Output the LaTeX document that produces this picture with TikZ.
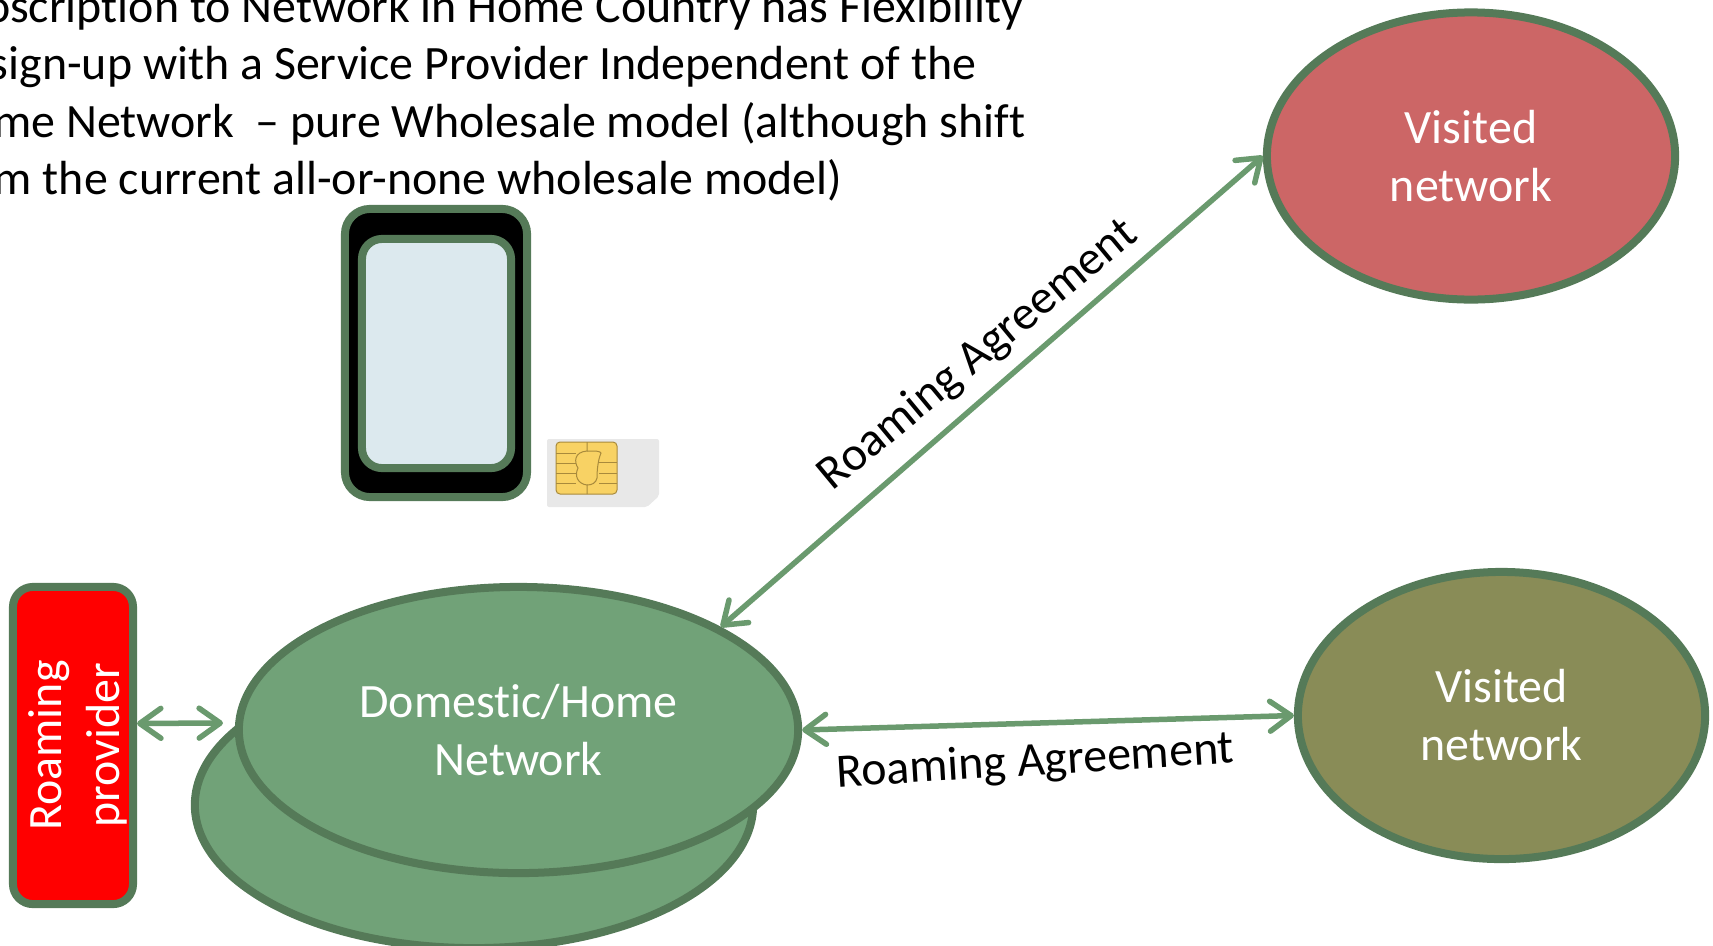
\documentclass[tikz,border=0pt]{standalone}
\usepackage{fontspec}
\setmainfont{Carlito}[Ligatures=CommonOff]
\usepackage{tikz}
\usetikzlibrary{arrows.meta}
\usetikzlibrary{shapes.geometric}
\definecolor{rimgreen}{HTML}{557A58}
\definecolor{homegreen}{HTML}{71A278}
\definecolor{linkgreen}{HTML}{6A9A6E}
\definecolor{visitedred}{HTML}{CC6666}
\definecolor{visitedolive}{HTML}{898C57}
\definecolor{screenblue}{HTML}{DCE9EE}
\definecolor{simgrey}{HTML}{E8E8E8}
\definecolor{chipgold}{HTML}{F8D264}
\definecolor{chipline}{HTML}{A88A3C}

\begin{document}
\begin{tikzpicture}[x=0.01cm,y=-0.01cm]
        \tikzstyle{bigtext}=[font=\fontsize{13.62}{16.5}\selectfont]
        \tikzstyle{network}=[ellipse,draw=rimgreen,line width=0.08cm,text=white,
            align=center,inner sep=0pt,bigtext]
        \tikzstyle{roundbox}=[rectangle,rounded corners=0.2cm,draw=rimgreen,
            line width=0.08cm,inner sep=0pt]
        \tikzstyle{link}=[{Straight Barb[length=6pt,width=8.5pt,round]}-{Straight Barb[length=6pt,width=8.5pt,round]},
            draw=linkgreen,line width=0.055cm]
        \useasboundingbox (0,0) rectangle (1713,945);

        \foreach \txt/\xx/\yy [count=\i] in {oscription to Network in Home Country has Flexibility/1024/22,
            sign-up with a Service Provider Independent of the/977/79.5,
            me Network \ – pure Wholesale model (although shift/1026/137,
            m the current all-or-none wholesale model)/843/194.5}
            \node[bigtext,anchor=base east,inner sep=0pt] (top\i) at (\xx,\yy) {\txt};

        \node[roundbox,rounded corners=0.25cm,fill=black,minimum width=1.82cm,minimum height=2.88cm] (phone) at (436,353) {};
        \node[roundbox,fill=screenblue,minimum width=1.49cm,minimum height=2.29cm] (screen) at (436.5,353.5) {};

        \fill[simgrey,rounded corners=0.02cm] (547,439) -- (659,439) -- (659,496) -- (647,507) -- (547,507) -- cycle;
        \draw[chipline,fill=chipgold,line width=0.01cm,rounded corners=0.04cm] (556,442) rectangle (617,494);
        \draw[chipline,line width=0.01cm] (587,442) -- (587,451) .. controls (574,452) and (574,462) .. (578,468)
            .. controls (574,476) and (578,484) .. (587,485) -- (587,494);
        \draw[chipline,line width=0.01cm] (587,451) .. controls (596,451) and (600,451) .. (601,453)
            .. controls (598,460) and (597,470) .. (597,478) .. controls (596,483) and (592,485) .. (587,485);
        \foreach \yy in {453,463,473,483}
            \draw[chipline,line width=0.01cm] (556,\yy) -- (576,\yy);
        \foreach \yy in {462,473,483}
            \draw[chipline,line width=0.01cm] (599,\yy) -- (617,\yy);

        \node[network,fill=homegreen,minimum width=5.58cm,minimum height=2.86cm] (back) at (474,805) {};
        \node[network,fill=homegreen,minimum width=5.59cm,minimum height=2.86cm] (home) at (518.5,730) {Domestic/Home\\Network};
        \node[network,fill=visitedred,minimum width=4.08cm,minimum height=2.87cm] (red) at (1471,156) {Visited\\network};
        \node[network,fill=visitedolive,minimum width=4.07cm,minimum height=2.87cm] (olive) at (1501.5,715.5) {Visited\\network};

        \node[roundbox,fill=red,minimum width=1.2cm,minimum height=3.17cm] (rprov) at (73,745.5) {};
        \node[bigtext,text=white,align=center,rotate=90,inner sep=0pt] (rprovtext) at (77.5,745.5) {Roaming\\provider};

        \coordinate (homegap) at (223,723);
        \draw[link] (rprov.19) -- (homegap);
        \draw[link] (home.27) -- (red.180);
        \draw[link] (home.east) -- (olive.west);

        \node[bigtext,anchor=base,rotate=39.6,inner sep=0pt] (agree1) at (986,365) {Roaming Agreement};
        \node[bigtext,anchor=base,rotate=3.5,inner sep=0pt] (agree2) at (1036,775) {Roaming Agreement};
\end{tikzpicture}
\end{document}
